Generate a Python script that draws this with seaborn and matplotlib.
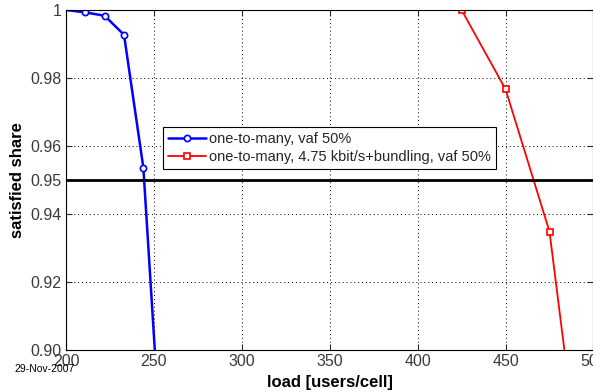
import matplotlib
matplotlib.use('Agg')
import matplotlib.pyplot as plt
import seaborn as sns

# data
load_a = [200, 211, 222, 233, 244, 255]
share_a = [1.0, 0.9993, 0.9983, 0.9927, 0.9536, 0.863]
load_b = [400, 425, 450, 475, 500]
share_b = [1.0, 1.0, 0.9767, 0.9348, 0.832]
label_a = 'one-to-many, vaf 50%'
label_b = 'one-to-many, 4.75 kbit/s+bundling, vaf 50%'
yticks = [0.90, 0.92, 0.94, 0.95, 0.96, 0.98, 1.0]
ytick_labels = ['0.90', '0.92', '0.94', '0.95', '0.96', '0.98', '1']
xticks = [200, 250, 300, 350, 400, 450, 500]

sns.set_style('ticks')
plt.rcParams['font.family'] = ['Liberation Sans', 'DejaVu Sans']

fig = plt.figure(figsize=(5.93, 3.92), dpi=100)
ax = fig.add_axes([0.1113, 0.1071, 0.8895, 0.8674])

sns.lineplot(x=load_a, y=share_a, ax=ax, color='#0000ff', lw=1.8,
             marker='o', markersize=4.5, markerfacecolor='white',
             markeredgecolor='#0000ff', markeredgewidth=1.2,
             markevery=list(range(1, len(load_a))), label=label_a)
sns.lineplot(x=load_b, y=share_b, ax=ax, color='#ff0000', lw=1.3,
             marker='s', markersize=4.5, markerfacecolor='white',
             markeredgecolor='#ff0000', markeredgewidth=1.2,
             markevery=list(range(1, len(load_b))), label=label_b)
ax.axhline(0.95, color='black', lw=2.0, zorder=3)

ax.set_xlim(200, 500)
ax.set_ylim(0.9, 1.0)
ax.set_xticks(xticks)
ax.set_yticks(yticks)
ax.set_yticklabels(ytick_labels)
ax.grid(True, color='black', ls=(0, (1, 3)), lw=0.7)
for s in ax.spines.values():
    s.set_visible(True)
    s.set_color('black')
    s.set_linewidth(0.8)
ax.tick_params(direction='in', top=True, right=True, length=4, width=0.8,
               labelsize=11.5, labelcolor='#3a3a3a', pad=3)
ax.set_xlabel('load [users/cell]', fontsize=12, fontweight='bold', labelpad=4, color='black')
ax.set_ylabel('satisfied share', fontsize=12, fontweight='bold', labelpad=4, color='black')

leg = ax.legend(loc='upper left', bbox_to_anchor=(0.184, 0.655), borderaxespad=0,
                fontsize=10.5, frameon=True, fancybox=False, edgecolor='black',
                framealpha=1, borderpad=0.35, labelspacing=0.25,
                handlelength=2.6, handletextpad=0.2)
leg.get_frame().set_linewidth(0.8)

fig.text(0.024, 0.05, '29-Nov-2007', fontsize=7.5, color='black')

fig.savefig('out.png', dpi=100, facecolor='white')
